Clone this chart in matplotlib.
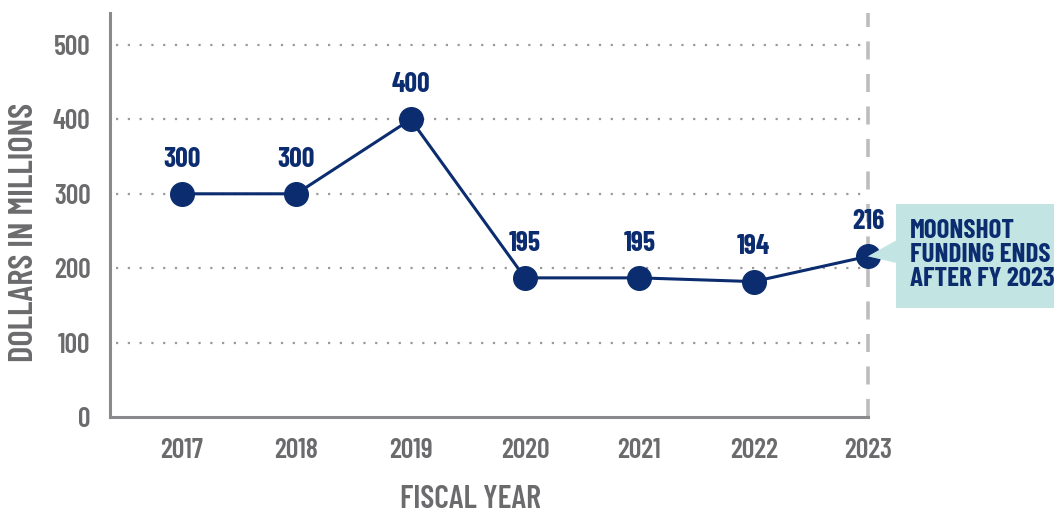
"""
Moonshot funding by fiscal year, dollars in millions.
"""
import matplotlib
matplotlib.use("Agg")
import matplotlib.pyplot as plt
from matplotlib.patches import Polygon, Rectangle

YEARS = [2017, 2018, 2019, 2020, 2021, 2022, 2023]
# plotted marker heights
FUNDING = [300, 300, 400, 187, 187, 182, 216]
# printed labels above each marker
VALUE_LABELS = ["300", "300", "400", "195", "195", "194", "216"]
Y_TICKS = [0, 100, 200, 300, 400, 500]
NOTE = "MOONSHOT\nFUNDING ENDS\nAFTER FY 2023"

NAVY = "#0b2d6f"
GREY_TEXT = "#6b6b6e"
GREY_AXIS = "#8a8a8d"
TEAL = "#c2e5e3"

plt.rcParams["font.family"] = ["Barlow Condensed", "DejaVu Sans"]
plt.rcParams["font.weight"] = 600

fig = plt.figure(figsize=(10.54, 5.12), dpi=100)
ax = fig.add_axes([110 / 1054, 95 / 512, (868 - 110) / 1054, (417 - 13) / 512])

x_left = YEARS[0] - 72 / 114.33
ax.set_xlim(x_left, YEARS[-1])
ax.set_ylim(0, 543)

# dotted grid lines
for t in Y_TICKS[1:]:
    ax.plot([x_left + 0.05, YEARS[-1]], [t, t], color="#9a9a9a", lw=1.6,
            linestyle=(0, (1, 4.3)), zorder=1)

# dashed line at final year
ax.plot([YEARS[-1], YEARS[-1]], [0, 543], color="#bdbdbd", lw=2.6,
        linestyle=(0, (5, 4)), clip_on=False, zorder=1)

ax.plot(YEARS, FUNDING, color=NAVY, lw=2.2, marker="o", markersize=17,
        clip_on=False, zorder=3)

for x, y, lab in zip(YEARS, FUNDING, VALUE_LABELS):
    ax.annotate(lab, (x, y), xytext=(0, 16), textcoords="offset points",
                ha="center", va="bottom", fontsize=20, color=NAVY,
                fontweight="bold", annotation_clip=False)

for side in ["top", "right"]:
    ax.spines[side].set_visible(False)
for side in ["left", "bottom"]:
    ax.spines[side].set_color(GREY_AXIS)
    ax.spines[side].set_linewidth(2.2)

ax.set_yticks(Y_TICKS)
ax.set_xticks(YEARS)
ax.tick_params(axis="both", length=0, labelcolor=GREY_TEXT, labelsize=20)
ax.tick_params(axis="y", pad=14)
ax.tick_params(axis="x", pad=15)
for lab in ax.get_xticklabels() + ax.get_yticklabels():
    lab.set_fontweight(600)

fig.text(25 / 1054, 1 - 232 / 512, "DOLLARS IN MILLIONS", rotation=90,
         ha="center", va="center", fontsize=25, color=GREY_TEXT, fontweight=600)
fig.text(470 / 1054, 1 - 499 / 512, "FISCAL YEAR", ha="center", va="center",
         fontsize=23, color=GREY_TEXT, fontweight=600)

# call-out box with pointer
box = Rectangle((896 / 1054, 1 - 308 / 512), (1054 - 896) / 1054, (308 - 204) / 512,
                transform=fig.transFigure, facecolor=TEAL, edgecolor="none", zorder=2)
fig.patches.append(box)
tip = ax.transData.transform((YEARS[-1], FUNDING[-1]))
tip = fig.transFigure.inverted().transform(tip)
pointer = [(tip[0], tip[1]), (897 / 1054, 1 - 240 / 512), (897 / 1054, 1 - 263 / 512)]
fig.patches.append(Polygon(pointer, closed=True, transform=fig.transFigure,
                           facecolor=TEAL, edgecolor="none", zorder=2))
fig.patches.append(Polygon(pointer, closed=True, transform=fig.transFigure,
                           facecolor=TEAL, edgecolor="none", alpha=0.45, zorder=5))
fig.text(910 / 1054, 1 - 255 / 512, NOTE, ha="left", va="center", fontsize=19.5,
         color=NAVY, fontweight="bold", linespacing=1.0, zorder=6)

fig.savefig("out.png", dpi=100)
